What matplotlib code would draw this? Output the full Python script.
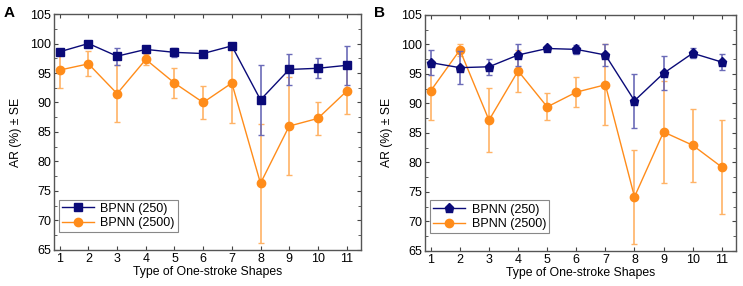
import matplotlib.pyplot as plt
from matplotlib.lines import Line2D
import numpy as np

shapes = list(range(1, 12))

# panel A
a_250 = [98.6, 100.0, 97.85, 99.0, 98.5, 98.3, 99.6, 90.45, 95.6, 95.8, 96.3]
a_250_se = [0.5, 0.1, 1.45, 0.4, 0.8, 0.4, 0.3, 5.95, 2.65, 1.7, 3.3]
a_2500 = [95.5, 96.55, 91.5, 97.3, 93.3, 90.0, 93.3, 76.3, 86.0, 87.3, 91.9]
a_2500_se = [3.1, 2.1, 4.85, 1.0, 2.6, 2.8, 6.7, 10.1, 8.35, 2.75, 3.9]

# panel B
b_250 = [96.9, 96.05, 96.2, 98.2, 99.3, 99.15, 98.2, 90.45, 95.1, 98.5, 97.0]
b_250_se = [2.1, 2.85, 1.4, 1.8, 0.4, 0.8, 1.8, 4.55, 2.9, 0.8, 1.3]
b_2500 = [92.15, 99.05, 87.15, 95.5, 89.4, 91.9, 93.15, 74.15, 85.15, 82.9, 79.2]
b_2500_se = [5.0, 1.0, 5.4, 3.6, 2.3, 2.6, 6.85, 7.95, 8.6, 6.15, 7.9]

labels = ["BPNN (250)", "BPNN (2500)"]

navy = "#0a0a78"
navy_err = "#6b6bb8"
orange = "#ff8c1a"
orange_err = "#ffb366"

plt.rcParams["font.family"] = ["Liberation Sans", "DejaVu Sans"]
plt.rcParams["font.size"] = 8.5

fig = plt.figure(figsize=(7.43, 2.86), dpi=100)
ax_a = fig.add_axes([0.0727, 0.126, 0.413, 0.825])
ax_b = fig.add_axes([0.572, 0.123, 0.419, 0.825])


def draw_panel(ax, y1, e1, y2, e2, m1, letter):
    ms1 = 5.5 if m1 == "s" else 6.5
    ax.errorbar(shapes, y2, yerr=e2, color=orange, ecolor=orange_err,
                elinewidth=1.2, capsize=2.5, capthick=1.0, marker="o",
                markersize=6, lw=1.0, zorder=2)
    ax.errorbar(shapes, y1, yerr=e1, color=navy, ecolor=navy_err,
                elinewidth=1.2, capsize=2.5, capthick=1.0, marker=m1,
                markersize=ms1, lw=1.0, zorder=3)
    ax.set_xlim(0.8, 11.5)
    ax.set_ylim(65, 105)
    ax.set_xticks(shapes)
    ax.set_yticks(range(65, 106, 5))
    ax.set_yticks(np.arange(67.5, 105, 5), minor=True)
    ax.tick_params(direction="in", top=True, right=True, length=3,
                   labelsize=9, color="#444444", pad=2)
    ax.tick_params(which="minor", direction="in", right=True, length=2,
                   color="#444444")
    for s in ax.spines.values():
        s.set_color("#555555")
        s.set_linewidth(1.0)
    ax.set_xlabel("Type of One-stroke Shapes", fontsize=8.8, labelpad=1)
    ax.set_ylabel("AR (%) \u00b1 SE", fontsize=8.8, labelpad=6)
    handles = [
        Line2D([], [], color=navy, marker=m1, markersize=ms1, lw=1.0),
        Line2D([], [], color=orange, marker="o", markersize=6, lw=1.0),
    ]
    leg = ax.legend(handles, labels, loc="lower left",
                    bbox_to_anchor=(0.015, 0.075), fontsize=9,
                    fancybox=False, framealpha=1, edgecolor="#888888",
                    handlelength=2.6, handletextpad=0.5, borderpad=0.25,
                    labelspacing=0.2, borderaxespad=0)
    leg.get_frame().set_linewidth(0.8)
    fig.text(ax.get_position().x0 - 0.068, 0.955, letter, fontsize=11,
             fontweight="bold", va="center")


draw_panel(ax_a, a_250, a_250_se, a_2500, a_2500_se, "s", "A")
draw_panel(ax_b, b_250, b_250_se, b_2500, b_2500_se, "p", "B")

fig.savefig("out.png", dpi=100)
